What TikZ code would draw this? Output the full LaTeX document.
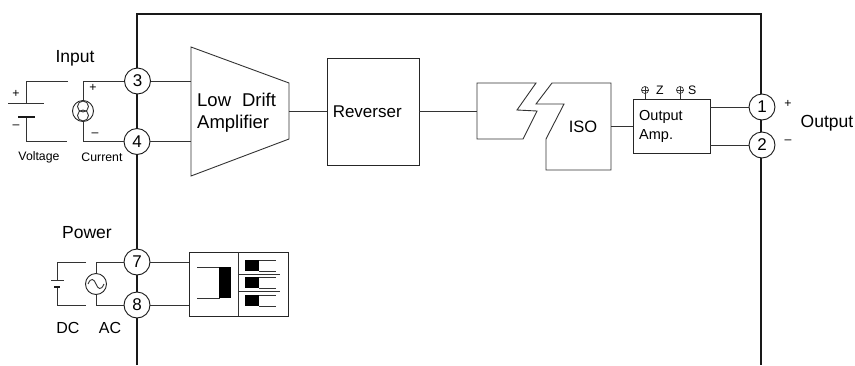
\documentclass[tikz,border=0pt]{standalone}
\usepackage{fontspec}
\setmainfont{Liberation Sans}
\usetikzlibrary{positioning}

\tikzset{
	wire/.style={line width=0.9pt, draw=black!80},
	frameline/.style={line width=1.7pt, draw=black!90},
	terminal/.style={circle, draw=black!90, fill=white, line width=0.9pt, minimum size=26pt, inner sep=0pt, font=\fontsize{17}{20}\selectfont},
	block/.style={rectangle, draw=black!85, line width=0.9pt, inner sep=0pt},
	biglabel/.style={inner sep=0pt, font=\fontsize{17.5}{23}\selectfont},
	amplabel/.style={inner sep=0pt, font=\fontsize{18.5}{21.5}\selectfont},
	midlabel/.style={inner sep=0pt, font=\fontsize{14.5}{19}\selectfont, align=left},
	smalllabel/.style={inner sep=0pt, font=\fontsize{12.3}{14}\selectfont},
	source/.style={circle, draw=black!85, line width=0.9pt, fill=white, minimum size=21pt, inner sep=0pt},
}

\begin{document}
\begin{tikzpicture}[x=1pt, y=-1pt]
\useasboundingbox (0,0) rectangle (855,365);

	% enclosure
	\coordinate (fl) at (137,365);
	\coordinate (ftl) at (137,14);
	\coordinate (ftr) at (761,14);
	\coordinate (fr) at (761,365);
	\draw [frameline] (fl) -- (ftl) -- (ftr) -- (fr);

	% terminals
	\node [terminal] (t3) at (137.5,81) {3};
	\node [terminal] (t4) at (137,141.5) {4};
	\node [terminal] (t7) at (137,262) {7};
	\node [terminal] (t8) at (137,305) {8};
	\node [terminal] (t1) at (762,107) {1};
	\node [terminal] (t2) at (762,145) {2};

	% amplifier
	\coordinate (aTL) at (191,47);
	\coordinate (aTR) at (289,83);
	\coordinate (aBR) at (289,139);
	\coordinate (aBL) at (191,176);
	\draw [wire] (aTL) -- (aTR) -- (aBR) -- (aBL) -- cycle;
	\node [amplabel, align=left, anchor=west] (amp) at (197,112.5) {Low\hspace{11pt}Drift\\Amplifier};
	\coordinate (a3) at (191,81);
	\coordinate (a4) at (191,141.5);
	\coordinate (aout) at (289,111);
	\draw [wire] (t3) -- (a3);
	\draw [wire] (t4) -- (a4);

	% reverser
	\node [block, minimum width=92pt, minimum height=107pt] (rev) at (373,111.5) {};
	\node [biglabel, font=\fontsize{17}{20}\selectfont, right=6pt of rev.west] (revtxt) {Reverser};
	\draw [wire] (aout) -- (rev.west |- aout);

	% isolator
	\draw [wire] (477,83) coordinate (i1) -- (536,83) -- (517,110) -- (537,111) -- (523,139) -- (477,139) -- cycle;
	\draw [wire] (552,83) -- (611,83) coordinate (i2) -- (611,170) -- (546,170) -- (546,139) -- (564,104) -- (536,104) -- cycle;
	\node [biglabel, font=\fontsize{16.5}{20}\selectfont] (iso) at (583,127) {ISO};
	\coordinate (iin) at (477,111);
	\coordinate (iout) at (611,126);
	\draw [wire] (rev.east |- iin) -- (iin);

	% output amp
	\node [block, minimum width=77pt, minimum height=54pt] (oamp) at (671.5,126) {};
	\node [midlabel, anchor=west] (oamptxt) at (639,126.5) {Output\\Amp.};
	\draw [wire] (iout) -- (oamp.west |- iout);
	\draw [wire] (oamp.east |- t1) -- (t1);
	\draw [wire] (oamp.east |- t2) -- (t2);

	% trimmers
	\foreach \name/\xpos/\txt/\gap in {z/645/Z/11, s/680/S/8} {
		\coordinate (\name) at (\xpos,90);
		\draw [wire, line width=0.7pt] (\name) circle (3.5pt);
		\draw [wire, line width=0.7pt] (\xpos-3.5,90) -- (\xpos+3.5,90);
		\draw [wire, line width=0.7pt] (\xpos,86.5) -- (\xpos,99);
		\node [smalllabel, right=\gap pt of \name] (l\name) {\txt};
	}

	% output labels
	\node [smalllabel] (op) at (788,104) {+};
	\node [smalllabel] (om) at (788,142) {\textendash};
	\node [biglabel] (out) at (827,123) {Output};

	% input side
	\node [biglabel] (inp) at (75,58) {Input};
	\coordinate (v1) at (68,81);
	\coordinate (v2) at (26,81);
	\coordinate (v3) at (26,103);
	\coordinate (v4) at (26,117);
	\coordinate (v5) at (26,141);
	\coordinate (v6) at (67,141);
	\draw [wire] (v1) -- (v2) -- (v3);
	\draw [wire] (v4) -- (v5) -- (v6);
	\draw [wire] (8,103) -- (44,103);
	\draw [line width=1.6pt, black!90] (18,117) -- (35,117);
	\node [smalllabel] (vp) at (16,94) {+};
	\node [smalllabel] (vm) at (16,127) {\textendash};
	\node [smalllabel] (vlab) at (39,157) {Voltage};

	\coordinate (c1) at (83,81);
	\coordinate (c2) at (83,141.5);
	\draw [wire] (t3) -- (c1) -- (c2) -- (t4);
	\node [source] (cur) at (83,111) {};
	\draw [wire] (83,106.5) circle (5.5pt);
	\draw [wire] (83,115.5) circle (5.5pt);
	\node [smalllabel] (cp) at (93,88) {+};
	\node [smalllabel] (cm) at (95,135) {\textendash};
	\node [smalllabel] (clab) at (102,157) {Current};

	% power side
	\node [biglabel] (pow) at (87,233) {Power};
	\coordinate (d1) at (86,262);
	\coordinate (d2) at (57,262);
	\coordinate (d3) at (57,280);
	\coordinate (d4) at (57,287);
	\coordinate (d5) at (57,305);
	\coordinate (d6) at (86,305);
	\draw [wire] (d1) -- (d2) -- (d3);
	\draw [wire] (d4) -- (d5) -- (d6);
	\draw [wire] (51,280) -- (64,280);
	\draw [line width=1.6pt, black!90] (54,287) -- (60,287);
	\coordinate (e1) at (96,262);
	\coordinate (e2) at (96,305);
	\draw [wire] (t7) -- (e1) -- (e2) -- (t8);
	\node [source] (acs) at (96,284) {};
	\draw [wire] (88,284) .. controls (91,277) and (94,279) .. (96,284) .. controls (98,289) and (101,291) .. (104,284);
	\node [biglabel, font=\fontsize{16}{20}\selectfont] (dc) at (68,328) {DC};
	\node [biglabel, font=\fontsize{16}{20}\selectfont] (ac) at (110,328) {AC};

	% power module
	\node [block, minimum width=99pt, minimum height=64pt] (pm) at (238.5,284) {};
	\coordinate (pmtop) at (238,252);
	\coordinate (pmbot) at (238,316);
	\draw [wire] (pmtop) -- (pmbot);
	\draw [wire] (t7) -- (pm.west |- t7);
	\draw [wire] (t8) -- (pm.west |- t8);
	\draw [wire] (197,267) -- (220,267);
	\draw [wire] (197,298) -- (220,298);
	\fill [black] (219,267) rectangle (231,298);
	\draw [wire] (238,274) -- (280,274);
	\draw [wire] (238,291) -- (280,291);
	\foreach \ytop/\ybot in {260/271, 277/288, 295/306} {
		\fill [black] (245,\ytop) rectangle (259,\ybot);
		\draw [wire, line width=0.7pt] (259,\ytop) -- (276,\ytop);
		\draw [wire, line width=0.7pt] (259,\ybot) -- (276,\ybot);
	}

\end{tikzpicture}
\end{document}
